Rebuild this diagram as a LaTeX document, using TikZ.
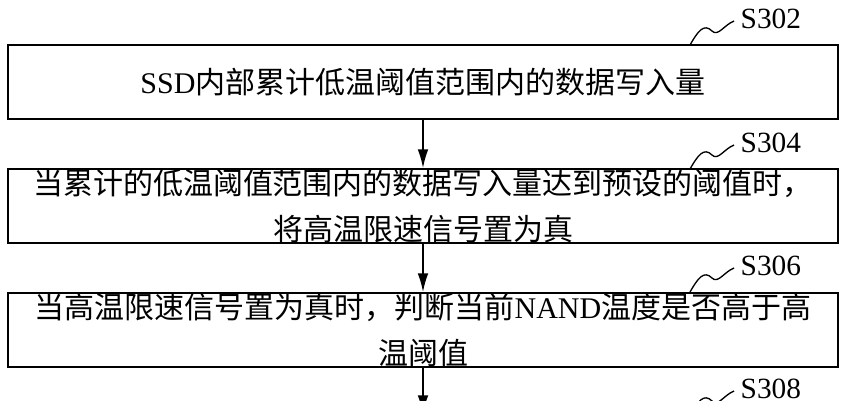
\documentclass[tikz,border=0pt]{standalone}
\usepackage{fontspec}
\usetikzlibrary{arrows.meta}
\setmainfont{Liberation Serif}
\newfontfamily\cjk{Noto Sans CJK SC}
\begin{document}
\begin{tikzpicture}[x=0.75pt,y=-0.75pt,
  stepbox/.style={draw,line width=1.2pt,minimum width=830*0.75pt,minimum height=74*0.75pt,inner sep=0pt,align=center,font=\fontsize{22.5}{35}\selectfont},
  lab/.style={font=\fontsize{22}{24}\selectfont,anchor=west},
  conn/.style={line width=1.1pt,-{Latex[length=14pt,width=8pt]}}]
\useasboundingbox (0,0) rectangle (846,400);
\clip (0,0) rectangle (846,400);
\node[stepbox] (b1) at (423,82) {SSD{\cjk 内部累计低温阈值范围内的数据写入量}};
\node[stepbox] (b2) at (423,206) {{\cjk 当累计的低温阈值范围内的数据写入量达到预设的阈值时，}\\{\cjk 将高温限速信号置为真}};
\node[stepbox] (b3) at (423,330) {{\cjk 当高温限速信号置为真时，判断当前}NAND{\cjk 温度是否高于高}\\{\cjk 温阈值}};
\coordinate (b4) at (423,414);
\draw[conn] (b1) -- (b2);
\draw[conn] (b2) -- (b3);
\draw[conn] (b3) -- (b4);
\foreach \n/\y/\t in {l1/45/S302,l2/169/S304,l3/292/S306,l4/415/S308}{
  \coordinate (\n s) at (690,\y);
  \coordinate (\n e) at (734,\y-24);
  \draw[line width=1pt] (\n s) .. controls (698,\y-14) and (704,\y-22) .. (712,\y-14) .. controls (718,\y-8) and (724,\y-20) .. (\n e);
  \node[lab] (\n) at (736,\y-26) {\t};
}
\end{tikzpicture}
\end{document}
